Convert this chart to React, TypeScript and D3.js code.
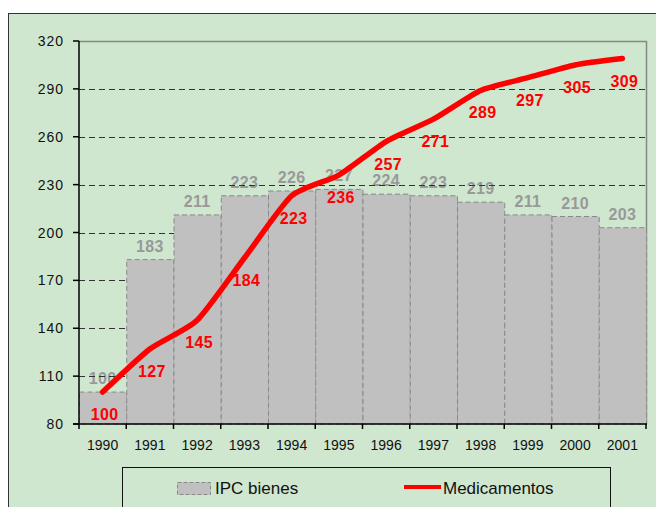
import * as d3 from 'd3'

const years = ['1990', '1991', '1992', '1993', '1994', '1995', '1996', '1997', '1998', '1999', '2000', '2001']
const ipcBienes = [100, 183, 211, 223, 226, 227, 224, 223, 219, 211, 210, 203]
const medicamentos = [100, 127, 145, 184, 223, 236, 257, 271, 289, 297, 305, 309]
const yTicks = [80, 110, 140, 170, 200, 230, 260, 290, 320]

const W = 656
const H = 507
const BG = '#cfe6cf'
const FONT = 'Liberation Sans, Arial, sans-serif'

export default function App() {
  const left = 79
  const right = 646
  const top = 41
  const bottom = 424

  const x = d3.scaleBand<string>().domain(years).range([left, right]).padding(0)
  const y = d3.scaleLinear().domain([80, 320]).range([bottom, top])
  const cx = (yr: string) => (x(yr) as number) + x.bandwidth() / 2

  const line = d3
    .line<number>()
    .x((_, i) => cx(years[i]))
    .y(d => y(d))
    .curve(d3.curveCardinal.tension(0.4))

  return (
    <svg
      width={W}
      height={H}
      style={{ position: 'absolute', left: 0, top: 0, background: '#fff' }}
      fontFamily={FONT}
    >
      {/* outer chart frame */}
      <rect x={8.5} y={13.5} width={700} height={600} fill={BG} stroke="#333" strokeWidth={1} />

      {/* bar labels (behind gridlines) */}
      {ipcBienes.map((v, i) => (
        <text
          key={'bl' + i}
          x={cx(years[i])}
          y={y(v) - 8}
          textAnchor="middle"
          fontSize={16}
          fontWeight="bold"
          letterSpacing={0.3}
          fill="#999"
        >
          {v}
        </text>
      ))}

      {/* gridlines */}
      {yTicks.filter(t => t > 80 && t < 320).map(t => (
        <line
          key={'g' + t}
          x1={left}
          x2={right}
          y1={Math.round(y(t)) + 0.5}
          y2={Math.round(y(t)) + 0.5}
          stroke="#333"
          strokeDasharray="6,4"
        />
      ))}

      {/* plot border top/right */}
      <path
        d={`M${left},${top + 0.5}H${right + 0.5}V${bottom}`}
        fill="none"
        stroke="#888"
        strokeWidth={1.5}
      />

      {/* bars */}
      {ipcBienes.map((v, i) => (
        <rect
          key={'b' + i}
          x={(x(years[i]) as number) + 0.5}
          y={y(v)}
          width={x.bandwidth()}
          height={bottom - y(v)}
          fill="#c0c0c0"
          stroke="#888"
          strokeDasharray="5,3"
        />
      ))}

      {/* axes */}
      <line x1={left} x2={left} y1={top} y2={bottom + 5} stroke="#000" strokeWidth={1.5} />
      <line x1={left - 6} x2={right + 1} y1={bottom} y2={bottom} stroke="#000" strokeWidth={1.5} />
      {yTicks.map(t => (
        <g key={'yt' + t}>
          <line x1={left - 6} x2={left} y1={y(t)} y2={y(t)} stroke="#000" strokeWidth={1.5} />
          <text
            x={64}
            y={y(t) + 5}
            textAnchor="end"
            fontSize={14}
            letterSpacing={1}
            fill="#111"
          >
            {t}
          </text>
        </g>
      ))}
      {years.map((yr, i) => (
        <g key={'xt' + yr}>
          <line
            x1={(x(yr) as number) + x.bandwidth()}
            x2={(x(yr) as number) + x.bandwidth()}
            y1={bottom}
            y2={bottom + 5}
            stroke="#000"
            strokeWidth={1.5}
          />
          <text x={cx(yr)} y={450} textAnchor="middle" fontSize={14} fill="#111">
            {yr}
          </text>
        </g>
      ))}

      {/* medicamentos line */}
      <path
        d={line(medicamentos) || ''}
        fill="none"
        stroke="#ff0000"
        strokeWidth={5.5}
        strokeLinecap="round"
        strokeLinejoin="round"
      />

      {medicamentos.map((v, i) => (
        <text
          key={'ml' + i}
          x={cx(years[i]) + 2}
          y={y(v) + 28}
          textAnchor="middle"
          fontSize={16}
          fontWeight="bold"
          letterSpacing={0.3}
          fill="#ff0000"
        >
          {v}
        </text>
      ))}

      {/* legend */}
      <rect x={122.5} y={467.5} width={488} height={60} fill={BG} stroke="#111" strokeWidth={1} />
      <rect x={177.5} y={482.5} width={33} height={12} fill="#c0c0c0" stroke="#888" strokeDasharray="4,2" />
      <text x={215} y={494} fontSize={17} fill="#111">
        IPC bienes
      </text>
      <line x1={404} x2={441} y1={487} y2={487} stroke="#ff0000" strokeWidth={4} />
      <text x={443} y={494} fontSize={17} fill="#111">
        Medicamentos
      </text>
    </svg>
  )
}
